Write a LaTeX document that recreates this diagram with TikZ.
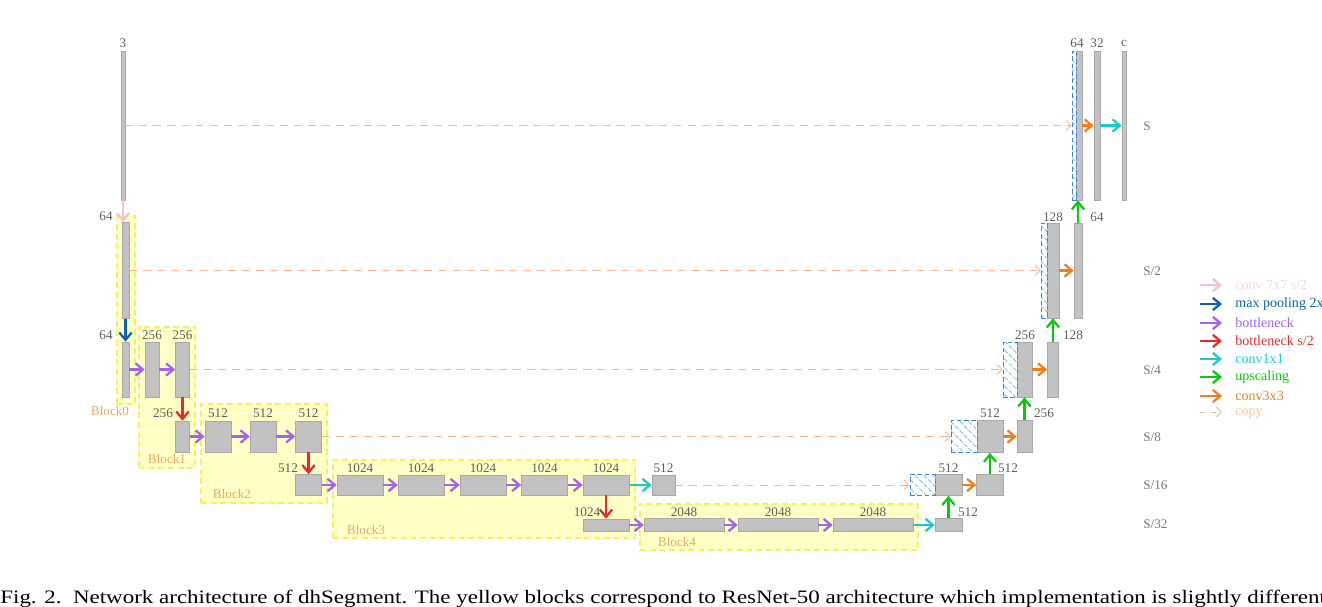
\documentclass[tikz,border=0pt]{standalone}
\usepackage{fontspec}
\setmainfont{Liberation Serif}
\usepackage{graphicx}
\usepackage{tikz}
\usetikzlibrary{arrows.meta,positioning,fit,patterns.meta}
\definecolor{BarGray}{HTML}{C2C2C2}
\definecolor{BarEdge}{HTML}{A8A8A8}
\definecolor{BlockFill}{HTML}{FFFFC6}
\definecolor{BlockEdge}{HTML}{F2F25A}
\definecolor{BlockText}{HTML}{E8A868}
\definecolor{LabelGray}{HTML}{5E5E5E}
\definecolor{ConvPink}{HTML}{F6C2D0}
\definecolor{ConvPinkText}{HTML}{F8D4DC}
\definecolor{PoolBlue}{HTML}{0A62B2}
\definecolor{BottlePurple}{HTML}{A462F0}
\definecolor{BottleRed}{HTML}{E42A2A}
\definecolor{OneCyan}{HTML}{1EC8C8}
\definecolor{UpGreen}{HTML}{0AC80A}
\definecolor{ThreeOrange}{HTML}{F07E1A}
\definecolor{CopyOrange}{HTML}{F2B68A}
\definecolor{HatchBlue}{HTML}{3C86D6}
\definecolor{HatchLight}{HTML}{80BAEA}
\tikzset{
  bx/.style 2 args={rectangle,draw=BarEdge,fill=BarGray,line width=0.3pt,inner sep=0pt,
                    minimum width=#1*0.2mm,minimum height=#2*0.2mm},
  hx/.style 2 args={rectangle,draw=HatchBlue,dash pattern=on 2.6pt off 1.6pt,line width=0.45pt,
                    pattern={Lines[angle=-45,distance=3.6pt,line width=0.45pt]},
                    pattern color=HatchLight,inner sep=0pt,
                    minimum width=#1*0.2mm,minimum height=#2*0.2mm},
  yb/.style={rectangle,draw=BlockEdge,fill=BlockFill,dash pattern=on 3.5pt off 2pt,
             line width=0.8pt,inner sep=0pt},
  lbl/.style={text=LabelGray,font=\fontsize{7.5}{9}\selectfont,inner sep=0pt},
  lvl/.style={lbl,anchor=west,text=LabelGray!85},
  blbl/.style={text=BlockText,font=\fontsize{7.5}{9}\selectfont,inner sep=0pt},
  lgt/.style={font=\fontsize{8}{9.5}\selectfont,inner sep=0pt,anchor=west},
  arr/.style={-{Straight Barb[length=4.2pt,width=7pt]},line width=1.3pt},
  cp/.style={-{Straight Barb[length=2.8pt,width=5.5pt]},draw=CopyOrange,line width=0.5pt,
             dash pattern=on 4.5pt off 3.5pt}
}
\begin{document}
\begin{tikzpicture}[x=0.2mm,y=-0.2mm]
  \useasboundingbox (0,0) rectangle (1322,607);
  \clip (0,0) rectangle (1322,607);

  % ResNet-50 blocks
  \node[yb,fit={(117,216) (135,404)}] (blk0) {};
  \node[yb,fit={(139,327) (195,468)}] (blk1) {};
  \node[yb,fit={(201,404) (327,503)}] (blk2) {};
  \node[yb,fit={(333,460) (635,538)}] (blk3) {};
  \node[yb,fit={(640,504) (918,550)}] (blk4) {};
  \node[blbl] (nb0) at (110,411) {Block0};
  \node[blbl] (nb1) at (167,459) {Block1};
  \node[blbl] (nb2) at (232,494) {Block2};
  \node[blbl] (nb3) at (366,530) {Block3};
  \node[blbl] (nb4) at (677,542) {Block4};

  % encoder
  \node[bx={4}{149}]  (b3)  at (123,125.5) {};
  \node[bx={7}{96}]   (e0)  at (125.5,270.5) {};
  \node[bx={7}{55}]   (e0p) at (125.5,369.5) {};
  \node[bx={14}{55}]  (r1a) at (152,369.5) {};
  \node[bx={14}{55}]  (r1b) at (182.5,369.5) {};
  \node[bx={14}{31}]  (r1c) at (182.5,436.5) {};
  \node[bx={26}{31}]  (r2a) at (218,436.5) {};
  \node[bx={26}{31}]  (r2b) at (263,436.5) {};
  \node[bx={26}{31}]  (r2c) at (308.5,436.5) {};
  \node[bx={26}{21}]  (r2d) at (308.5,485) {};
  \node[bx={46}{20}]  (r3a) at (360,485) {};
  \node[bx={46}{20}]  (r3b) at (421,485) {};
  \node[bx={46}{20}]  (r3c) at (483,485) {};
  \node[bx={46}{20}]  (r3d) at (544.5,485) {};
  \node[bx={46}{20}]  (r3e) at (606,485) {};
  \node[bx={46}{12}]  (r3f) at (606,525) {};
  \node[bx={80}{13}]  (r4a) at (684,525) {};
  \node[bx={80}{13}]  (r4b) at (778,525) {};
  \node[bx={80}{13}]  (r4c) at (873,525) {};

  % decoder
  \node[bx={23}{20}]  (u16) at (663.5,485) {};
  \node[bx={27}{13}]  (d32) at (948.5,525) {};
  \node[bx={27}{21}]  (d16) at (948.5,485) {};
  \node[hx={25}{21}]  (h16) at (922.5,485) {};
  \node[bx={27}{21}]  (d16b) at (990,485) {};
  \node[bx={26}{32}]  (d8)  at (990,436.5) {};
  \node[hx={26}{32}]  (h8)  at (964,436.5) {};
  \node[bx={15}{32}]  (d8b) at (1024.5,436.5) {};
  \node[bx={15}{55}]  (d4)  at (1024.5,369.5) {};
  \node[hx={14}{55}]  (h4)  at (1010,369.5) {};
  \node[bx={11}{55}]  (d4b) at (1053,369.5) {};
  \node[bx={12}{95}]  (d2)  at (1053,270.5) {};
  \node[hx={6}{95}]   (h2)  at (1044,270.5) {};
  \node[bx={8}{95}]   (d2b) at (1078,270.5) {};
  \node[bx={6}{149}]  (d1)  at (1079,125.5) {};
  \node[hx={4}{149}]  (h1)  at (1074,125.5) {};
  \node[bx={6}{149}]  (d1b) at (1097,125.5) {};
  \node[bx={4}{149}]  (out) at (1124,125.5) {};

  % channel labels
  \node[lbl] (t3)   at (123,43) {3};
  \node[lbl] (t64a) at (106,216) {64};
  \node[lbl] (t64b) at (106,335) {64};
  \node[lbl] (t1a)  at (152,335) {256};
  \node[lbl] (t1b)  at (182.5,335) {256};
  \node[lbl] (t1c)  at (163,413) {256};
  \node[lbl] (t2a)  at (218,413) {512};
  \node[lbl] (t2b)  at (263,413) {512};
  \node[lbl] (t2c)  at (308.5,413) {512};
  \node[lbl] (t2d)  at (288,468) {512};
  \node[lbl] (t3a)  at (360,468) {1024};
  \node[lbl] (t3b)  at (421,468) {1024};
  \node[lbl] (t3c)  at (483,468) {1024};
  \node[lbl] (t3d)  at (544.5,468) {1024};
  \node[lbl] (t3e)  at (606,468) {1024};
  \node[lbl] (t3f)  at (587,512) {1024};
  \node[lbl] (t4a)  at (684,512) {2048};
  \node[lbl] (t4b)  at (778,512) {2048};
  \node[lbl] (t4c)  at (873,512) {2048};
  \node[lbl] (tu16) at (663.5,468) {512};
  \node[lbl] (td32) at (968,512) {512};
  \node[lbl] (td16) at (948.5,468) {512};
  \node[lbl] (td16b) at (1008,468) {512};
  \node[lbl] (td8)  at (990,413) {512};
  \node[lbl] (td8b) at (1044,413) {256};
  \node[lbl] (td4)  at (1025,335) {256};
  \node[lbl] (td4b) at (1073,335) {128};
  \node[lbl] (td2)  at (1053,217) {128};
  \node[lbl] (td2b) at (1097,217) {64};
  \node[lbl] (td1)  at (1077,43) {64};
  \node[lbl] (td1b) at (1097,43) {32};
  \node[lbl] (tout) at (1124,43) {c};

  % scales
  \node[lvl] (sS)   at (1143,126) {S};
  \node[lvl] (sS2)  at (1143,271) {S/2};
  \node[lvl] (sS4)  at (1143,370) {S/4};
  \node[lvl] (sS8)  at (1143,437) {S/8};
  \node[lvl] (sS16) at (1143,485) {S/16};
  \node[lvl] (sS32) at (1143,524) {S/32};

  % copy connections
  \draw[cp] (b3.east) -- (h1.west);
  \draw[cp] (e0.east) -- (h2.west);
  \draw[cp] (r1b.east) -- (h4.west);
  \draw[cp] (r2c.east) -- (h8.west);
  \draw[cp] (u16.east) -- (h16.west);

  % encoder arrows
  \draw[arr,ConvPink] (b3.south) -- (b3.south |- e0.north);
  \draw[arr,PoolBlue] (e0.south) -- (e0p.north);
  \draw[arr,BottlePurple] (e0p.east) -- (r1a.west);
  \draw[arr,BottlePurple] (r1a.east) -- (r1b.west);
  \draw[arr,BottleRed] (r1b.south) -- (r1c.north);
  \draw[arr,BottlePurple] (r1c.east) -- (r2a.west);
  \draw[arr,BottlePurple] (r2a.east) -- (r2b.west);
  \draw[arr,BottlePurple] (r2b.east) -- (r2c.west);
  \draw[arr,BottleRed] (r2c.south) -- (r2d.north);
  \draw[arr,BottlePurple] (r2d.east) -- (r3a.west);
  \draw[arr,BottlePurple] (r3a.east) -- (r3b.west);
  \draw[arr,BottlePurple] (r3b.east) -- (r3c.west);
  \draw[arr,BottlePurple] (r3c.east) -- (r3d.west);
  \draw[arr,BottlePurple] (r3d.east) -- (r3e.west);
  \draw[arr,BottleRed] (r3e.south) -- (r3f.north);
  \draw[arr,BottlePurple] (r3f.east) -- (r4a.west);
  \draw[arr,BottlePurple] (r4a.east) -- (r4b.west);
  \draw[arr,BottlePurple] (r4b.east) -- (r4c.west);

  % decoder arrows
  \draw[arr,OneCyan] (r3e.east) -- (u16.west);
  \draw[arr,OneCyan] (r4c.east) -- (d32.west);
  \draw[arr,UpGreen] (d32.north) -- (d16.south);
  \draw[arr,ThreeOrange] (d16.east) -- (d16b.west);
  \draw[arr,UpGreen] (d16b.north) -- (d8.south);
  \draw[arr,ThreeOrange] (d8.east) -- (d8b.west);
  \draw[arr,UpGreen] (d8b.north) -- (d4.south);
  \draw[arr,ThreeOrange] (d4.east) -- (d4b.west);
  \draw[arr,UpGreen] (d4b.north) -- (d2.south);
  \draw[arr,ThreeOrange] (d2.east) -- (d2b.west);
  \draw[arr,UpGreen] (d2b.north) -- (d2b.north |- d1.south);
  \draw[arr,ThreeOrange] (d1.east) -- (d1b.west);
  \draw[arr,OneCyan] (d1b.east) -- (out.west);

  % legend
  \foreach \y/\c/\tc/\t [count=\i] in {285/ConvPink/ConvPinkText/{conv 7x7 s/2},
      304/PoolBlue/PoolBlue/{max pooling 2x2},
      323/BottlePurple/BottlePurple/{bottleneck},
      341/BottleRed/BottleRed/{bottleneck s/2},
      359/OneCyan/OneCyan/{conv1x1},
      377/UpGreen/UpGreen/{upscaling},
      396/ThreeOrange/ThreeOrange/{conv3x3}}{
    \coordinate (ls\i) at (1200,\y);
    \coordinate (le\i) at (1222,\y);
    \draw[arr,\c] (ls\i) -- (le\i);
    \node[lgt,text=\tc] (lg\i) at (1235,\y) {\t};
  }
  \coordinate (ls8) at (1200,412);
  \coordinate (le8) at (1222,412);
  \draw[cp,dash pattern=on 3pt off 3pt] (ls8) -- (le8);
  \node[lgt,anchor=base west,text=CopyOrange!85] (lg8) at (1235,415) {copy};

  % caption
  \node[anchor=base west,inner sep=0pt,font=\fontsize{10.8}{13}\selectfont] (cap) at (0,603)
    {\scalebox{1.21}[1]{Fig. 2.\ \ Network architecture of dhSegment. The yellow blocks correspond to ResNet-50 architecture which implementation is slightly different}};
\end{tikzpicture}
\end{document}
